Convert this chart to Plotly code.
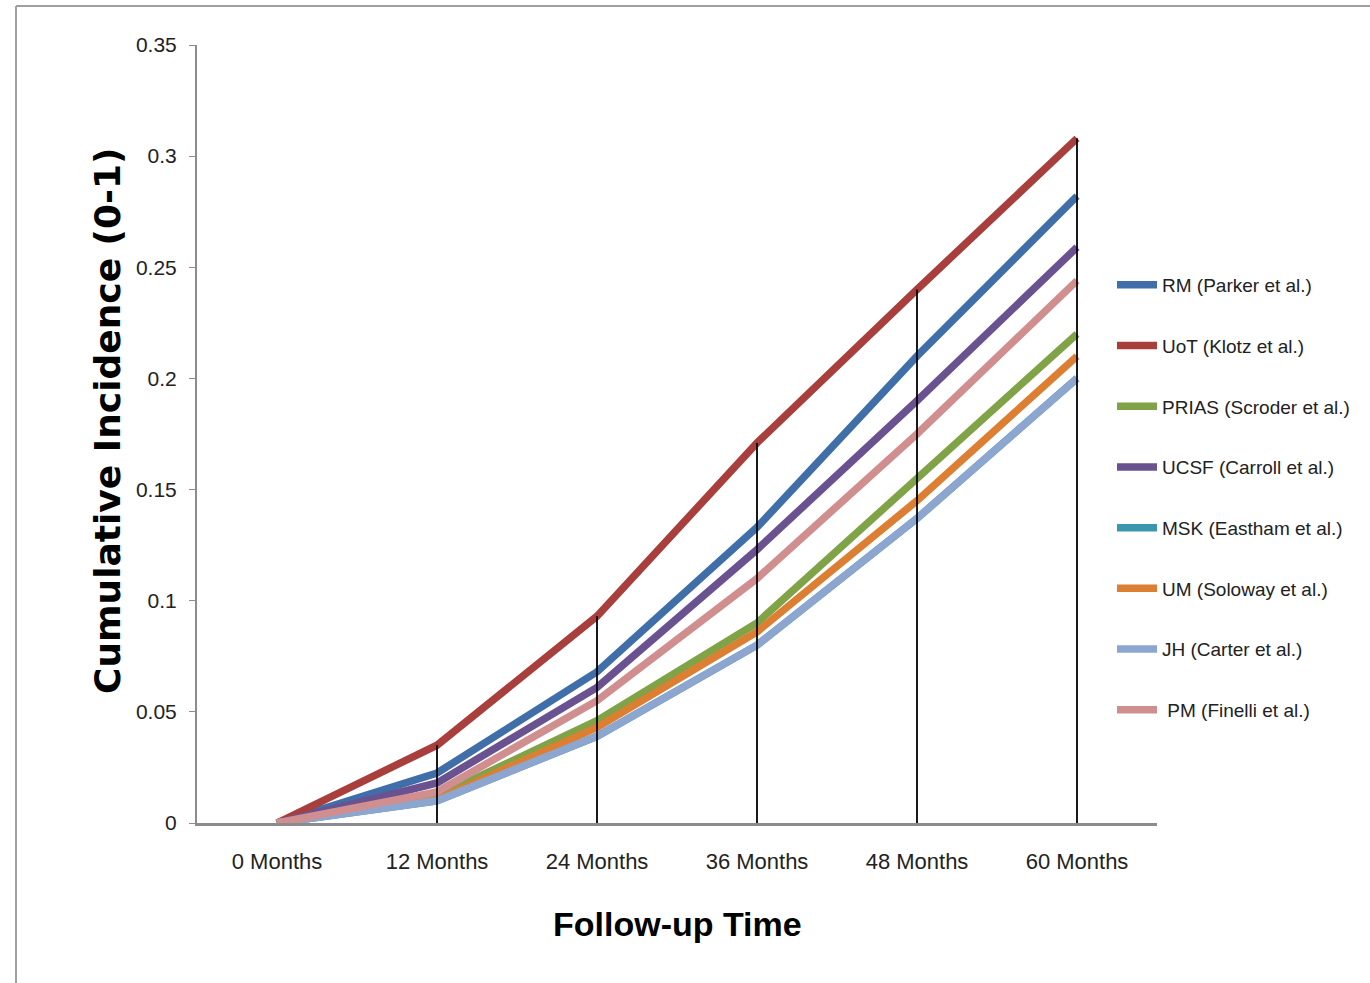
import plotly.graph_objects as go

categories = ["0 Months", "12 Months", "24 Months", "36 Months", "48 Months", "60 Months"]

series_names = ["RM (Parker et al.)", "UoT (Klotz et al.)", "PRIAS (Scroder et al.)",
                "UCSF (Carroll et al.)", "MSK (Eastham et al.)", "UM (Soloway et al.)",
                "JH (Carter et al.)", " PM (Finelli et al.)"]

rm = [0, 0.0225, 0.068, 0.133, 0.210, 0.282]
uot = [0, 0.035, 0.093, 0.171, 0.240, 0.308]
prias = [0, 0.012, 0.046, 0.090, 0.155, 0.220]
ucsf = [0, 0.018, 0.061, 0.123, 0.190, 0.259]
msk = [0, 0.010, 0.039, 0.080, 0.137, 0.200]
um = [0, 0.0105, 0.043, 0.086, 0.145, 0.210]
jh = [0, 0.010, 0.039, 0.080, 0.137, 0.200]
pm = [0, 0.014, 0.055, 0.110, 0.175, 0.244]

colors = ["#3f6ea8", "#a83f3c", "#7fa346", "#6a5190", "#3c96ae", "#dd7f33", "#8ca6cf", "#d08f8e"]

y_tickvals = [0, 0.05, 0.1, 0.15, 0.2, 0.25, 0.3, 0.35]
y_ticktext = ["0", "0.05", "0.1", "0.15", "0.2", "0.25", "0.3", "0.35"]

all_series = [rm, uot, prias, ucsf, msk, um, jh, pm]

FONT = "Liberation Sans Narrow, Liberation Sans, Arial, sans-serif"

fig = go.Figure()
for i, (name, vals, col) in enumerate(zip(series_names, all_series, colors)):
    fig.add_trace(go.Scatter(
        x=categories, y=vals, name=name, mode="lines",
        line=dict(color=col, width=7.5),
        legendgroup=f"g{i}",
    ))

# drop lines from max value to axis at each category
maxes = [max(s[j] for s in all_series) for j in range(len(categories))]
dx, dy = [], []
for c, m in zip(categories, maxes):
    if m > 0:
        dx += [c, c, None]
        dy += [0, m, None]
fig.add_trace(go.Scatter(x=dx, y=dy, mode="lines", line=dict(color="black", width=1.8),
                         showlegend=False, hoverinfo="skip"))

fig.update_layout(
    width=1370, height=983,
    margin=dict(l=197, r=213, t=45, b=160, autoexpand=False),
    paper_bgcolor="white", plot_bgcolor="white",
    showlegend=True,
    legend=dict(
        x=1.0 + (1112 - 1157) / 960, y=(823 - 266) / 778, xanchor="left", yanchor="top",
        font=dict(family=FONT, size=19, color="#222"),
        traceorder="grouped", tracegroupgap=33,
        itemwidth=40, bgcolor="rgba(0,0,0,0)",
    ),
    xaxis=dict(
        type="category", range=[-0.5, 5.5],
        showline=True, linecolor="#8c8c8c", linewidth=3,
        showgrid=False, zeroline=False, ticks="",
        ticklabelstandoff=17,
        tickfont=dict(family=FONT, size=22, color="#222"),
    ),
    yaxis=dict(
        range=[0, 0.35], tickvals=y_tickvals, ticktext=y_ticktext,
        showline=True, linecolor="#8c8c8c", linewidth=2,
        showgrid=False, zeroline=False, ticks="outside", ticklen=6, tickcolor="#8c8c8c",
        ticklabelstandoff=8,
        tickfont=dict(family=FONT, size=21, color="#222"),
    ),
    annotations=[
        dict(text="<b>Cumulative Incidence (0-1)</b>", xref="paper", yref="paper",
             x=(107 - 197) / 960, y=(823 - 421) / 778, textangle=-90, showarrow=False,
             xanchor="center", yanchor="middle",
             font=dict(family="DejaVu Sans", size=36, color="black")),
        dict(text="<b>Follow-up Time</b>", xref="paper", yref="paper",
             x=(677 - 197) / 960, y=(823 - 924) / 778, showarrow=False,
             xanchor="center", yanchor="middle",
             font=dict(family=FONT, size=34, color="black")),
    ],
    shapes=[
        dict(type="line", xref="paper", yref="paper",
             x0=(16 - 197) / 960, x1=(16 - 197) / 960, y0=(823 - 1000) / 778, y1=(823 - 6) / 778,
             line=dict(color="#a0a0a0", width=2)),
        dict(type="line", xref="paper", yref="paper",
             x0=(16 - 197) / 960, x1=(1400 - 197) / 960, y0=(823 - 6) / 778, y1=(823 - 6) / 778,
             line=dict(color="#a0a0a0", width=2)),
    ],
)

fig.write_html("out.html")
